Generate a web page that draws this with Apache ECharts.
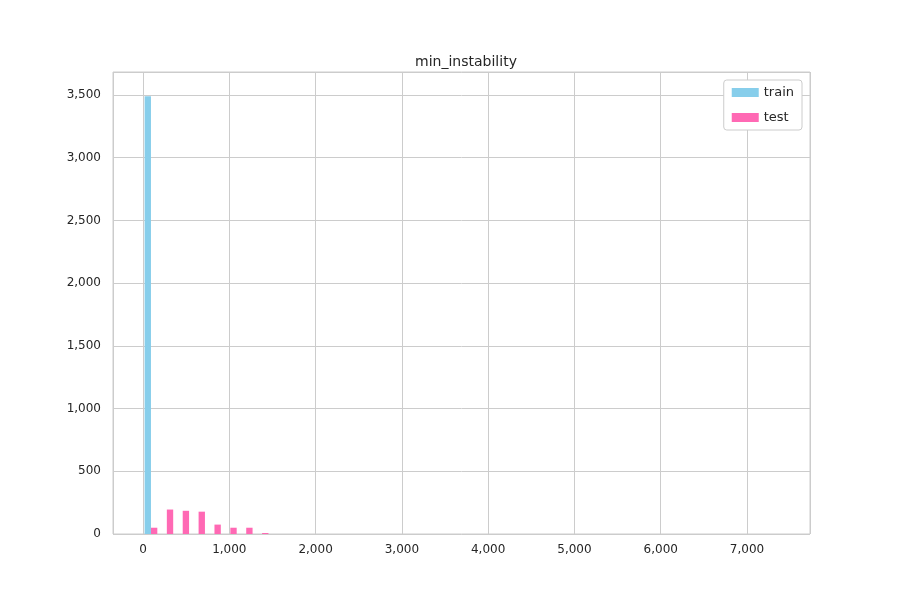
<!DOCTYPE html><html><head><meta charset="utf-8"><script src="https://cdn.jsdelivr.net/npm/echarts@6/dist/echarts.min.js"></script></head><body style="margin:0"><div id="c" style="width:900px;height:600px"></div><script>
const binWidth = 184;
const binStarts = [0,184,368,552,736,920,1104,1288];
const trainCounts = [3490,0,0,0,0,0,0,0];
const testCounts = [50,195,185,178,75,50,50,8];
const colors = {train:'#87CEEB', test:'#FF69B4'};
function mk(counts, off){return counts.map((v,i)=>[binStarts[i]+off*binWidth, binStarts[i]+(off+0.4)*binWidth, v]);}
function render(params, api){
  const a = api.coord([api.value(0),api.value(2)]), b = api.coord([api.value(1),0]);
  return {type:'rect', shape:{x:a[0], y:a[1], width:b[0]-a[0], height:b[1]-a[1]}, style:{fill:api.visual('color')}};
}
const chart = echarts.init(document.getElementById('c'));
chart.setOption({
  animation:false,
  title:{text:'min_instability', left:461, top:50, textAlign:'center', textStyle:{fontFamily:'DejaVu Sans', fontSize:14, fontWeight:'normal', color:'#262626'}},
  legend:{right:98, top:80, orient:'vertical', itemWidth:27, itemHeight:9, itemGap:12, backgroundColor:'#fff', borderColor:'#ccc', borderWidth:1, borderRadius:3, padding:[6,8], textStyle:{fontFamily:'DejaVu Sans', fontSize:13, color:'#262626'}, data:[{name:'train', icon:'rect'},{name:'test', icon:'rect'}]},
  grid:{left:113, right:90, top:72, bottom:66, show:true, borderColor:'#ccc', borderWidth:1},
  xAxis:{type:'value', min:-348, max:7730, minInterval:1000, maxInterval:1000, splitNumber:8,
    axisLine:{show:false}, axisTick:{show:false},
    axisLabel:{showMinLabel:false, showMaxLabel:false, fontFamily:'DejaVu Sans', fontSize:12, color:'#262626', margin:10},
    splitLine:{lineStyle:{color:'#ccc'}}},
  yAxis:{type:'value', min:0, max:3683, interval:500, axisLine:{show:false}, axisTick:{show:false},
    axisLabel:{showMaxLabel:false, fontFamily:'DejaVu Sans', fontSize:12, color:'#262626', margin:12},
    splitLine:{lineStyle:{color:'#ccc'}}},
  series:[
    {name:'train', type:'custom', renderItem:render, itemStyle:{color:colors.train}, encode:{x:[0,1], y:2}, data:mk(trainCounts,0.1)},
    {name:'test', type:'custom', renderItem:render, itemStyle:{color:colors.test}, encode:{x:[0,1], y:2}, data:mk(testCounts,0.5)}
  ]
});
</script></body></html>
